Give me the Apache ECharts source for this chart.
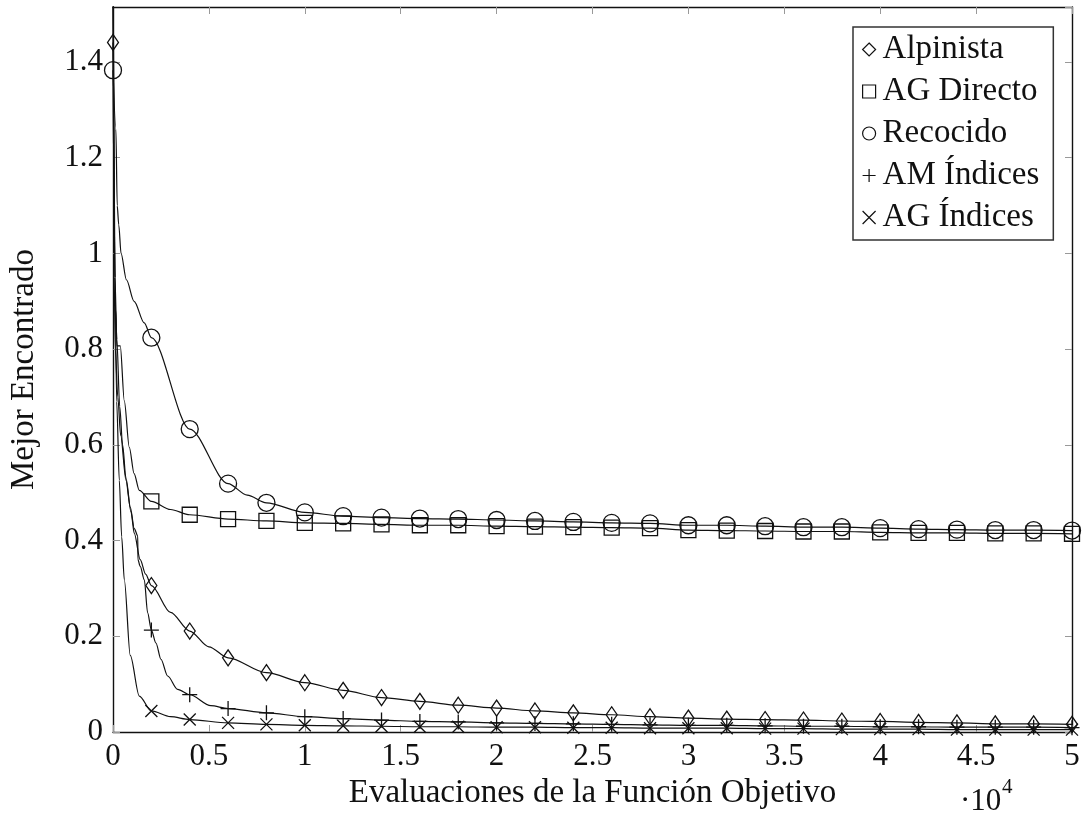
<!DOCTYPE html>
<html>
<head>
<meta charset="utf-8">
<script src="https://cdn.jsdelivr.net/npm/echarts@6/dist/echarts.min.js"></script>
<style>
  html, body { margin: 0; padding: 0; background: #fff; }
  #chart { width: 1083px; height: 819px; }
</style>
</head>
<body>
<div id="chart"></div>
<script>
// Best value found vs. number of objective-function evaluations, per method.
const seriesNames = ['Alpinista', 'AG Directo', 'Recocido', 'AM Índices', 'AG Índices'];
const xTickLabels = ['0', '0.5', '1', '1.5', '2', '2.5', '3', '3.5', '4', '4.5', '5'];
const yTickLabels = ['0', '0.2', '0.4', '0.6', '0.8', '1', '1.2', '1.4'];

// [evaluations, best value]
const alpinista = [
  [0, 1.441], [40, 1.15], [100, 0.95], [200, 0.82], [350, 0.68], [500, 0.60], [677, 0.53],
  [938, 0.46], [1110, 0.415], [1420, 0.36], [1700, 0.33], [2000, 0.306], [3000, 0.25],
  [4000, 0.211], [5000, 0.178], [6000, 0.155], [8000, 0.124], [10000, 0.103], [12000, 0.087],
  [14000, 0.072], [16000, 0.064], [18000, 0.056], [20000, 0.050], [22000, 0.044], [24000, 0.040],
  [26000, 0.036], [28000, 0.032], [30000, 0.029], [32000, 0.027], [34000, 0.026], [36000, 0.025],
  [38000, 0.023], [40000, 0.022], [42000, 0.020], [44000, 0.019], [46000, 0.017], [48000, 0.017],
  [50000, 0.016]
];
const agDirecto = [
  [0, 1.60], [150, 0.879], [200, 0.807], [380, 0.807], [589, 0.692], [849, 0.595], [1100, 0.54],
  [1370, 0.505], [2000, 0.482], [3000, 0.465], [4000, 0.454], [6000, 0.445], [8000, 0.441],
  [10000, 0.437], [12000, 0.436], [14000, 0.434], [16000, 0.432], [18000, 0.432], [20000, 0.430],
  [22000, 0.429], [24000, 0.428], [26000, 0.427], [28000, 0.426], [30000, 0.422], [32000, 0.421],
  [34000, 0.420], [36000, 0.419], [38000, 0.419], [40000, 0.417], [42000, 0.416], [44000, 0.416],
  [46000, 0.415], [48000, 0.415], [50000, 0.414]
];
const recocido = [
  [0, 1.383], [150, 1.26], [220, 1.10], [300, 1.06], [420, 1.00], [700, 0.945], [1100, 0.90],
  [1630, 0.855], [2000, 0.824], [4000, 0.633], [6000, 0.519], [7000, 0.495], [8000, 0.479],
  [10000, 0.459], [12000, 0.451], [14000, 0.448], [16000, 0.446], [18000, 0.445], [20000, 0.443],
  [22000, 0.441], [24000, 0.439], [26000, 0.437], [28000, 0.436], [30000, 0.432], [32000, 0.432],
  [34000, 0.430], [36000, 0.428], [38000, 0.428], [40000, 0.426], [42000, 0.424], [44000, 0.423],
  [46000, 0.422], [48000, 0.422], [50000, 0.421]
];
const amIndices = [
  [0, 1.60], [60, 0.95], [120, 0.80], [250, 0.70], [400, 0.62], [677, 0.526], [900, 0.47],
  [1110, 0.425], [1290, 0.41], [1300, 0.36], [1420, 0.346], [1632, 0.318], [1806, 0.249],
  [2000, 0.213], [2240, 0.186], [2500, 0.152], [2850, 0.117], [3370, 0.089], [4000, 0.078],
  [5100, 0.055], [6000, 0.049], [8000, 0.040], [10000, 0.032], [12000, 0.028], [14000, 0.025],
  [16000, 0.022], [18000, 0.021], [20000, 0.019], [22000, 0.018], [24000, 0.017], [26000, 0.016],
  [28000, 0.015], [30000, 0.014], [32000, 0.014], [34000, 0.013], [36000, 0.012], [38000, 0.012],
  [40000, 0.011], [42000, 0.011], [44000, 0.010], [46000, 0.010], [48000, 0.010], [50000, 0.009]
];
const agIndices = [
  [0, 1.60], [100, 0.95], [193, 0.69], [328, 0.526], [453, 0.408], [590, 0.318], [900, 0.16],
  [1372, 0.075], [2000, 0.044], [3000, 0.032], [4000, 0.026], [6000, 0.019], [8000, 0.016],
  [10000, 0.014], [12000, 0.013], [14000, 0.012], [16000, 0.011], [18000, 0.011], [20000, 0.010],
  [22000, 0.010], [24000, 0.009], [26000, 0.009], [28000, 0.008], [30000, 0.008], [32000, 0.008],
  [34000, 0.007], [36000, 0.007], [38000, 0.006], [40000, 0.006], [42000, 0.006], [44000, 0.005],
  [46000, 0.005], [48000, 0.005], [50000, 0.005]
];

const seriesData = [alpinista, agDirecto, recocido, amIndices, agIndices];
const MARK_EVERY = 2000;

const FONT = '"Liberation Serif", "DejaVu Serif", serif';
const INK = '#111';

const markers = [
  { symbol: 'diamond', size: [11, 16] },
  { symbol: 'rect', size: 15 },
  { symbol: 'circle', size: 17 },
  { symbol: 'path://M0,8H16M8,0V16', size: 15 },
  { symbol: 'path://M0,0L16,16M0,16L16,0', size: 12 }
];

const series = seriesData.map((data, i) => ({
  name: seriesNames[i],
  type: 'line',
  data: data,
  smooth: 0.3,
  smoothMonotone: 'x',
  showAllSymbol: true,
  clip: true,
  symbol: (v) => (v[0] % MARK_EVERY === 0 ? markers[i].symbol : 'none'),
  symbolSize: markers[i].size,
  lineStyle: { color: INK, width: 1.2 },
  itemStyle: { color: 'rgba(0,0,0,0)', borderColor: INK, borderWidth: 1.3 },
  emphasis: { disabled: true },
  z: 3
}));

const tickStyle = { show: true, inside: true, length: 7, lineStyle: { color: '#999', width: 1 } };
const frameLine = { show: true, onZero: false, lineStyle: { color: INK, width: 1.4 } };
const tickFont = { fontFamily: FONT, fontSize: 31, color: INK };
const nameFont = { fontFamily: FONT, fontSize: 33, color: INK };

const chart = echarts.init(document.getElementById('chart'));
chart.setOption({
  animation: false,
  backgroundColor: '#fff',
  grid: { left: 112, top: 7, width: 960, height: 725 },
  xAxis: [
    {
      type: 'value', min: 0, max: 50000, interval: 5000, position: 'bottom',
      axisLine: frameLine, axisTick: tickStyle, splitLine: { show: false },
      axisLabel: Object.assign({ margin: 9, formatter: (v) => xTickLabels[Math.round(v / 5000)] }, tickFont),
      name: 'Evaluaciones de la Función Objetivo', nameLocation: 'middle', nameGap: 38,
      nameTextStyle: nameFont
    },
    {
      type: 'value', min: 0, max: 50000, interval: 5000, position: 'top',
      axisLine: frameLine, axisTick: tickStyle, axisLabel: { show: false }, splitLine: { show: false }
    }
  ],
  yAxis: [
    {
      type: 'value', min: 0, max: 1.515, interval: 0.2, position: 'left',
      axisLine: frameLine, axisTick: tickStyle, splitLine: { show: false },
      axisLabel: Object.assign({ margin: 10, showMaxLabel: false,
        formatter: (v) => yTickLabels[Math.round(v / 0.2)] || '' }, tickFont),
      name: 'Mejor Encontrado', nameLocation: 'middle', nameGap: 72, nameRotate: 90,
      nameTextStyle: nameFont
    },
    {
      type: 'value', min: 0, max: 1.515, interval: 0.2, position: 'right',
      axisLine: frameLine, axisTick: tickStyle, axisLabel: { show: false }, splitLine: { show: false }
    }
  ],
  legend: {
    left: 853, top: 27, orient: 'vertical', selectedMode: false,
    padding: [6, 14, 6, 9], itemGap: 9, itemWidth: 13, itemHeight: 13,
    borderColor: '#333', borderWidth: 1.5, backgroundColor: '#fff',
    textStyle: { fontFamily: FONT, fontSize: 33, color: INK, padding: [0, 0, 0, 2] },
    itemStyle: { color: 'rgba(0,0,0,0)', borderColor: INK, borderWidth: 1.2 },
    data: seriesNames.map((n, i) => ({ name: n, icon: markers[i].symbol }))
  },
  graphic: [
    { type: 'text', left: 960, top: 786, style: { text: '·10', font: '31px ' + FONT, fill: INK } },
    { type: 'text', left: 1002, top: 777, style: { text: '4', font: '21px ' + FONT, fill: INK } }
  ],
  series: series
});
</script>
</body>
</html>
